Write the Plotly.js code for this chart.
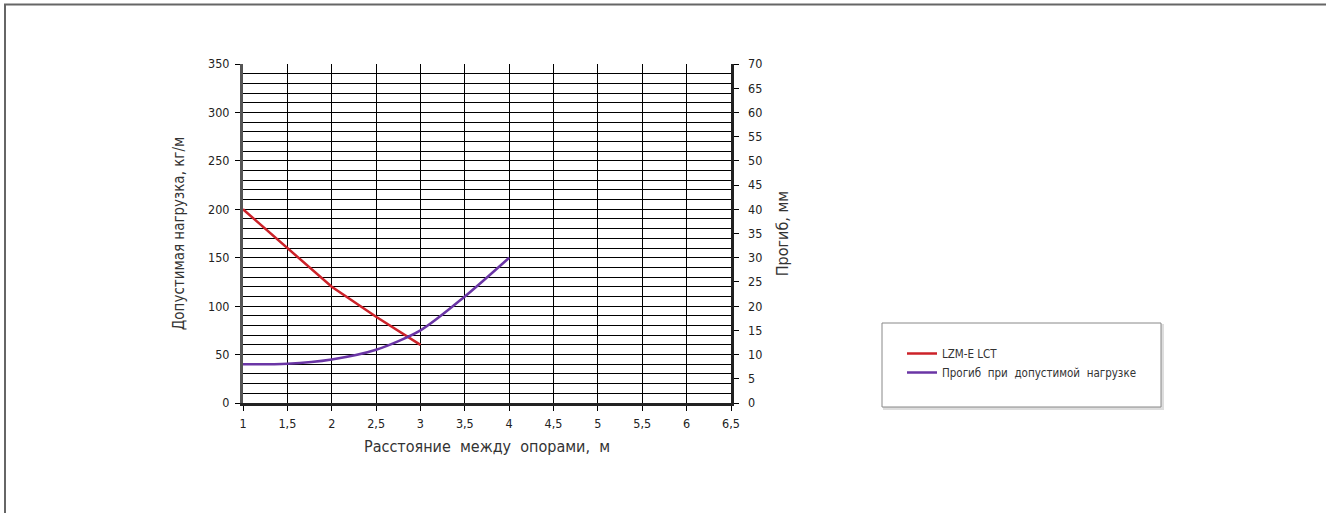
<!DOCTYPE html>
<html>
<head>
<meta charset="utf-8">
<script src="https://cdn.plot.ly/plotly-3.0.1.min.js"></script>
<style>html,body{margin:0;padding:0;background:#fff;}#chart{width:1326px;height:513px;}</style>
</head>
<body>
<div id="chart"></div>
<script>
// Data
const spanX = [1, 1.5, 2, 2.5, 3];
const loadLZM = [200, 160, 120, 89, 60];          // допустимая нагрузка, кг/м (left axis)
const deflX = [1, 1.5, 2, 2.5, 3, 3.5, 4];
const deflection = [8, 8.1, 9, 11, 15, 22, 30];   // прогиб, мм (right axis)

const seriesNames = ["LZM-E LCT", "Прогиб\u00a0 при\u00a0 допустимой\u00a0 нагрузке"];

const FONT = "DejaVu Sans Condensed, DejaVu Sans, sans-serif";
const L = 243, R = 731, T = 64, B = 403, W = 1326, H = 513;
const px = v => (v - L) / (R - L);
const py = v => (B - v) / (B - T);

const traces = [
  {x: spanX, y: loadLZM, name: seriesNames[0], type: "scatter", mode: "lines",
   line: {color: "#cc2229", width: 2.5}, yaxis: "y"},
  {x: deflX, y: deflection, name: seriesNames[1], type: "scatter", mode: "lines",
   line: {color: "#6a35a5", width: 2.5, shape: "spline", smoothing: 0.8}, yaxis: "y2"}
];

const layout = {
  width: W, height: H,
  margin: {l: L, r: W - R, t: T, b: H - B, pad: 0},
  paper_bgcolor: "#fff", plot_bgcolor: "#fff",
  separators: ", ",
  font: {family: FONT, size: 12, color: "#222"},
  showlegend: true,
  legend: {x: px(902), y: py(339), xanchor: "left", yanchor: "top",
           bgcolor: "rgba(0,0,0,0)", borderwidth: 0,
           font: {family: FONT, size: 11.5, color: "#333"}, tracegroupgap: 0, itemwidth: 30},
  xaxis: {range: [1, 6.5], tick0: 1, dtick: 0.5, ticks: "outside", ticklen: 5, tickcolor: "#000",
          showgrid: true, gridcolor: "#000", gridwidth: 1, zeroline: false,
          showline: true, linecolor: "#222", linewidth: 2.5, mirror: false,
          ticklabelstandoff: 2,
          tickfont: {family: FONT, size: 12.5, color: "#222"},
          title: {text: "Расстояние\u00a0 между\u00a0 опорами,\u00a0 м", standoff: 12,
                  font: {family: FONT, size: 16, color: "#333"}}},
  yaxis: {range: [0, 350], tick0: 0, dtick: 50, ticks: "outside", ticklen: 5, tickcolor: "#000",
          showgrid: true, gridcolor: "#000", gridwidth: 1, zeroline: false,
          minor: {dtick: 10, showgrid: true, gridcolor: "#000", gridwidth: 1, ticks: ""},
          showline: true, linecolor: "#555", linewidth: 3,
          ticklabelstandoff: 3,
          tickfont: {family: FONT, size: 12.5, color: "#222"},
          title: {text: "Допустимая нагрузка, кг/м", standoff: 20,
                  font: {family: FONT, size: 15, color: "#333"}}},
  yaxis2: {range: [0, 70], tick0: 0, dtick: 5, overlaying: "y", side: "right",
           ticks: "outside", ticklen: 5, tickcolor: "#000",
           showgrid: false, zeroline: false, showline: true, linecolor: "#222", linewidth: 2.5,
           ticklabelstandoff: 7,
           tickfont: {family: FONT, size: 12.5, color: "#222"},
           title: {text: "Прогиб, мм", standoff: 16,
                   font: {family: FONT, size: 16, color: "#333"}}},
  shapes: [
    {type: "rect", xref: "paper", yref: "paper", x0: px(5), x1: px(1345), y0: py(4.5), y1: py(530),
     line: {color: "#666", width: 2}, fillcolor: "rgba(0,0,0,0)", layer: "below"},
    {type: "rect", xref: "paper", yref: "paper", x0: px(884), x1: px(1163), y0: py(409), y1: py(325),
     line: {color: "#ddd", width: 2}, fillcolor: "#ddd", layer: "below"},
    {type: "rect", xref: "paper", yref: "paper", x0: px(882), x1: px(1161), y0: py(407), y1: py(323),
     line: {color: "#888", width: 1}, fillcolor: "#fff", layer: "below"}
  ]
};

Plotly.newPlot("chart", traces, layout, {displayModeBar: false, staticPlot: true});
</script>
</body>
</html>
